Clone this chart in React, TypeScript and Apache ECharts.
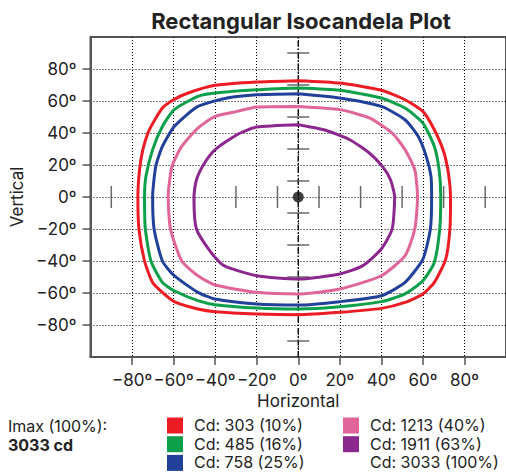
import React, { useEffect, useRef } from "react";
import * as echarts from "echarts";

const titleText = "Rectangular Isocandela Plot";
const xName = "Horizontal";
const yName = "Vertical";
const tickValues = [-80, -60, -40, -20, 0, 20, 40, 60, 80];
const crossValues = [-90, -70, -50, -30, -10, 10, 30, 50, 70, 90];
const seriesNames = ["Cd: 303 (10%)", "Cd: 485 (16%)", "Cd: 758 (25%)", "Cd: 1213 (40%)", "Cd: 1911 (63%)"];
const seriesColors = ["#ec1c24", "#0e9f4a", "#21409a", "#df659b", "#8c278e"];
const peakName = "Cd: 3033 (100%)";
const imaxLabel = "Imax (100%):";
const imaxValue = "3033 cd";

const red: number[][] = [
  [0, 72.7], [20, 71.2], [40, 66.7], [51.4, 60.8], [60, 53.5], [65.5, 42], [70.2, 27.5], [72.5, 12.9], [73.3, 0],
  [73, -20], [71, -38.8], [65.5, -53.4], [60, -60.6], [51.4, -65.9], [40, -69.6], [20, -72.1], [0, -73.6],
  [-20, -73.1], [-40, -71.7], [-48.3, -70], [-59.7, -65.4], [-65.4, -59.6], [-70.1, -53.4], [-74, -40], [-76.7, -20], [-77.2, 0],
  [-76.4, 17], [-74.8, 29.6], [-71.7, 42], [-65.4, 55.6], [-60, 60.8], [-53, 65], [-40, 69.8], [-20, 71.9], [0, 72.7],
];
const green: number[][] = [
  [0, 68.1], [20, 66.7], [40, 61.9], [51.4, 55.6], [60, 46.2], [65.5, 31.6], [67.8, 17], [68.6, 0],
  [68.1, -20], [65.5, -40.9], [60, -52.3], [51.4, -60.6], [40, -65.4], [20, -68.6], [0, -70],
  [-20, -69.4], [-40, -67.3], [-48.3, -64.8], [-59.7, -58.6], [-65.4, -53.4], [-70.9, -40], [-73.6, -20], [-74, 0],
  [-73.3, 12.9], [-70.1, 29.6], [-65.4, 44.1], [-59.7, 54.6], [-48.3, 62.9], [-40, 65], [-20, 67], [0, 68.1],
];
const blue: number[][] = [
  [0, 64.6], [20, 61.9], [40, 56.6], [51.4, 48.3], [57.7, 37.9], [61.6, 25.4], [63.9, 12.9], [64.2, 0],
  [63.6, -20], [60, -38.8], [51.4, -53.4], [40, -61.7], [20, -65.4], [0, -67.5],
  [-20, -66.9], [-40, -63.8], [-48.3, -59.6], [-59.7, -49.2], [-65.4, -40], [-69.4, -20], [-70.1, 0],
  [-68.6, 19.1], [-65.4, 31.6], [-59.7, 44.1], [-48.3, 56.6], [-34.2, 61.9], [-20, 63.9], [0, 64.6],
];
const pink: number[][] = [
  [0, 56.6], [20, 54.6], [34.2, 49.4], [45.2, 40], [51.4, 29.6], [56.1, 17], [57.4, 0],
  [56.1, -20], [51.4, -36.7], [40, -49.2], [20, -57.5], [0, -60.6],
  [-20, -59.6], [-40, -55], [-48.3, -49.2], [-56.1, -40], [-61.5, -20], [-62.6, 0],
  [-60.8, 19.1], [-56.1, 31.6], [-48.3, 43.1], [-40, 50.4], [-29.5, 53.5], [-20, 56.2], [0, 56.6],
];
const purple: number[][] = [
  [0, 45.2], [12.4, 42], [24.8, 35.8], [34.2, 27.5], [40.5, 19.1], [44.4, 10.8], [46.4, 0],
  [45.2, -20], [40, -32.5], [31.1, -42.9], [20, -48.1], [0, -51.3],
  [-20, -49.2], [-35.8, -42.9], [-42, -34.6], [-49, -20], [-50.2, 0],
  [-49, 10.8], [-45.1, 21.2], [-40, 29.6], [-29.5, 38.9], [-20, 43.7], [0, 45.2],
];
const contours = [red, green, blue, pink, purple];
const peakPoint = [[0, 0]];

const FONT = "Inter, 'Noto Sans', sans-serif";
const deg = (v: number) => (v < 0 ? "\u2212" + Math.abs(v) : String(v)) + "º";

function buildLegend() {
  const els: any[] = [];
  els.push({ type: "text", style: { text: imaxLabel, x: 8, y: 426, fill: "#222", fontSize: 16, fontFamily: FONT, verticalAlign: "middle" } });
  els.push({ type: "text", style: { text: imaxValue, x: 8, y: 444.5, fill: "#222", fontSize: 16, fontWeight: "bold", fontFamily: FONT, verticalAlign: "middle" } });
  const items = seriesNames.map((n, i) => ({ name: n, color: seriesColors[i] as string | null }));
  items.push({ name: peakName, color: null });
  items.forEach((it, i) => {
    const col = i < 3 ? 0 : 1;
    const row = i < 3 ? i : i - 3;
    const x0 = col === 0 ? 167 : 343;
    const y0 = 417.5 + row * 18.7;
    if (it.color) {
      els.push({ type: "rect", shape: { x: x0, y: y0, width: 16, height: 16 }, style: { fill: it.color } });
    }
    els.push({ type: "text", style: { text: it.name, x: x0 + 27, y: y0 + 7.5, fill: "#222", fontSize: 16, fontFamily: FONT, verticalAlign: "middle" } });
  });
  return els;
}

export default function App() {
  const ref = useRef<HTMLDivElement>(null);
  useEffect(() => {
    document.body.style.margin = "0";
    if (!ref.current) return;
    const chart = echarts.init(ref.current, null, { renderer: "svg" });
    const axisCommon = {
      type: "value",
      min: -100,
      max: 100,
      interval: 20,
      nameLocation: "middle",
      nameTextStyle: { fontFamily: FONT, fontSize: 17, color: "#222" },
      axisLine: { show: true, onZero: false, lineStyle: { color: "#555", width: 2 } },
      axisTick: { show: true, length: 8, customValues: tickValues, lineStyle: { color: "#555", width: 1.5 } },
      axisLabel: { customValues: tickValues, formatter: deg, margin: 14, fontFamily: FONT, fontSize: 17, color: "#222" },
      splitLine: { show: true, lineStyle: { color: "#000", type: [1, 2], width: 1 } },
    };
    const series: any[] = [
      {
        type: "line",
        name: "axis0",
        data: [[0, -100], [0, 100]],
        showSymbol: false,
        silent: true,
        lineStyle: { color: "#111", width: 1.5, type: [6, 2, 1.5, 2] },
        z: 1,
      },
      {
        type: "scatter",
        name: "crossV",
        data: crossValues.map((v) => [0, v]),
        symbol: "rect",
        symbolSize: [22, 1.5],
        itemStyle: { color: "#444" },
        silent: true,
        z: 1,
      },
      {
        type: "scatter",
        name: "crossH",
        data: crossValues.map((v) => [v, 0]),
        symbol: "rect",
        symbolSize: [1.5, 22],
        itemStyle: { color: "#444" },
        silent: true,
        z: 1,
      },
      ...contours.map((d, i) => ({
        type: "line",
        name: seriesNames[i],
        data: d,
        showSymbol: false,
        smooth: 0.2,
        lineStyle: { color: seriesColors[i], width: 3 },
        itemStyle: { color: seriesColors[i] },
        z: 2,
      })),
      {
        type: "scatter",
        name: peakName,
        data: peakPoint,
        symbol: "circle",
        symbolSize: 11,
        itemStyle: { color: "#111" },
        z: 3,
      },
    ];
    chart.setOption({
      animation: false,
      title: {
        text: titleText,
        left: 296,
        top: 5,
        textAlign: "center",
        textStyle: { fontFamily: FONT, fontWeight: "bold", fontSize: 22, color: "#222" },
      },
      grid: { left: 83, top: 37, width: 426.7, height: 320, show: true, borderColor: "#555", borderWidth: 2, containLabel: false },
      xAxis: { ...axisCommon, name: xName, nameGap: 33 },
      yAxis: { ...axisCommon, name: yName, nameGap: 62 },
      series,
      graphic: buildLegend(),
    });
    return () => chart.dispose();
  }, []);
  return <div ref={ref} style={{ width: 506, height: 472 }} />;
}
